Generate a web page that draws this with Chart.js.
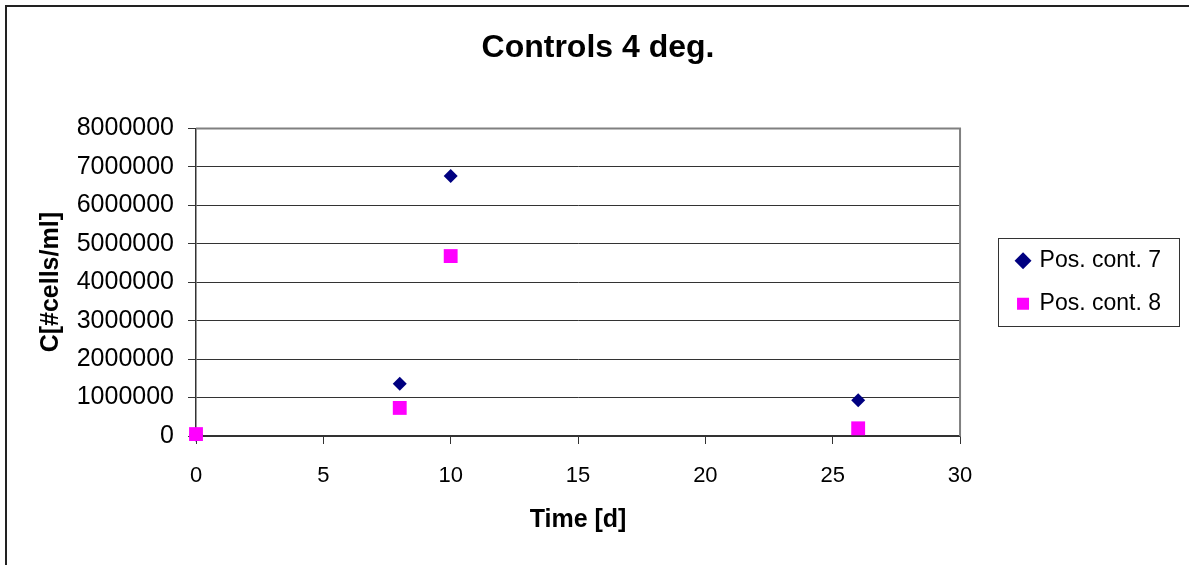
<!DOCTYPE html>
<html>
<head>
<meta charset="utf-8">
<script src="https://cdn.jsdelivr.net/npm/chart.js@4.4.1/dist/chart.umd.min.js"></script>
<style>
  html, body { margin: 0; padding: 0; background: #fff; }
  #wrap { position: relative; width: 1189px; height: 565px; }
</style>
</head>
<body>
<div id="wrap"><canvas id="controlsChart"></canvas></div>
<script>
const timeDays = [0, 8, 10, 26];
const posCont7 = [30000, 1360000, 6760000, 930000];
const posCont8 = [50000, 730000, 4680000, 200000];
const seriesLabels = ['Pos. cont. 7', 'Pos. cont. 8'];
const xTicks = [0, 5, 10, 15, 20, 25, 30];
const yTicks = [0, 1000000, 2000000, 3000000, 4000000, 5000000, 6000000, 7000000, 8000000];

const FONT = "'Liberation Sans', Arial, sans-serif";

function toPoints(xs, ys) {
    return xs.map((x, i) => ({ x: x, y: ys[i] }));
}

// Rahmen oben/rechts um die Zeichenfläche, äußerer Rahmen und Legendenrahmen
const framePlugin = {
    id: 'frames',
    beforeDatasetsDraw(chart) {
        const { ctx, chartArea: a } = chart;
        ctx.save();
        ctx.strokeStyle = '#808080';
        ctx.lineWidth = 2;
        ctx.beginPath();
        ctx.moveTo(a.left, a.top);
        ctx.lineTo(a.right, a.top);
        ctx.lineTo(a.right, a.bottom);
        ctx.stroke();
        ctx.restore();
    },
    afterDraw(chart) {
        const ctx = chart.ctx;
        ctx.save();
        ctx.strokeStyle = '#222';
        ctx.lineWidth = 2;
        ctx.beginPath();
        ctx.moveTo(6, chart.height);
        ctx.lineTo(6, 6);
        ctx.lineTo(chart.width, 6);
        ctx.stroke();

        const lg = chart.legend;
        const cy = (lg.top + lg.bottom) / 2;
        ctx.strokeStyle = '#333';
        ctx.lineWidth = 1;
        ctx.strokeRect(Math.round(lg.left) + 0.5, Math.round(cy - 44) + 0.5, Math.round(lg.width) + 8, 88);
        ctx.restore();
    }
};

const ctx = document.getElementById('controlsChart').getContext('2d');
window.controlsChart = new Chart(ctx, {
    type: 'scatter',
    data: {
        datasets: [{
            label: seriesLabels[0],
            data: toPoints(timeDays, posCont7),
            pointStyle: 'rectRot',
            pointRadius: 7,
            pointHoverRadius: 7,
            backgroundColor: '#000080',
            borderColor: '#000080',
            borderWidth: 0,
            clip: false,
            order: 1
        }, {
            label: seriesLabels[1],
            data: toPoints(timeDays, posCont8),
            pointStyle: 'rect',
            pointRadius: 9.8,
            pointHoverRadius: 9.8,
            backgroundColor: '#FF00FF',
            borderColor: '#FF00FF',
            borderWidth: 0,
            clip: false,
            order: 0
        }]
    },
    options: {
        responsive: true,
        maintainAspectRatio: false,
        animation: false,
        layout: { padding: { left: 25, right: 18, top: 0, bottom: 0 } },
        plugins: {
            title: {
                display: true,
                text: 'Controls 4 deg.',
                color: '#000',
                font: { family: FONT, size: 32, weight: 'bold' },
                padding: { top: 29, bottom: 61 }
            },
            legend: {
                position: 'right',
                fullSize: false,
                labels: {
                    usePointStyle: true,
                    boxWidth: 10,
                    boxHeight: 12,
                    padding: 20,
                    color: '#000',
                    font: { family: FONT, size: 23 },
                    sort: (a, b) => a.datasetIndex - b.datasetIndex
                }
            },
            tooltip: { enabled: false }
        },
        scales: {
            x: {
                type: 'linear',
                position: 'bottom',
                min: xTicks[0],
                max: xTicks[xTicks.length - 1],
                afterFit: s => { s.height = 129; },
                afterBuildTicks: s => { s.ticks = xTicks.map(v => ({ value: v })); },
                ticks: {
                    color: '#000',
                    padding: 19,
                    font: { family: FONT, size: 22 }
                },
                grid: {
                    drawOnChartArea: false,
                    drawTicks: true,
                    tickLength: 8,
                    color: '#333'
                },
                border: { display: true, color: '#333', width: 1.5 },
                title: {
                    display: true,
                    text: 'Time [d]',
                    color: '#000',
                    font: { family: FONT, size: 25, weight: 'bold' },
                    padding: { top: 0, bottom: 30 }
                }
            },
            y: {
                type: 'linear',
                position: 'left',
                min: yTicks[0],
                max: yTicks[yTicks.length - 1],
                afterFit: s => { s.width = 171; },
                afterBuildTicks: s => { s.ticks = yTicks.map(v => ({ value: v })); },
                ticks: {
                    color: '#000',
                    padding: 14,
                    font: { family: FONT, size: 25 },
                    callback: v => String(v)
                },
                grid: {
                    drawOnChartArea: true,
                    drawTicks: true,
                    tickLength: 8,
                    color: '#333',
                    lineWidth: 1
                },
                border: { display: true, color: '#333', width: 1.5 },
                title: {
                    display: true,
                    text: 'C[#cells/ml]',
                    color: '#000',
                    font: { family: FONT, size: 25, weight: 'bold' },
                    padding: { top: 11, bottom: 0 }
                }
            },
            // Abstand zwischen Diagrammfläche und Legende
            gap: {
                type: 'linear',
                axis: 'y',
                position: 'right',
                display: true,
                afterFit: s => { s.width = 38; },
                ticks: { display: false },
                grid: { display: false },
                border: { display: false }
            }
        }
    },
    plugins: [framePlugin]
});
</script>
</body>
</html>
